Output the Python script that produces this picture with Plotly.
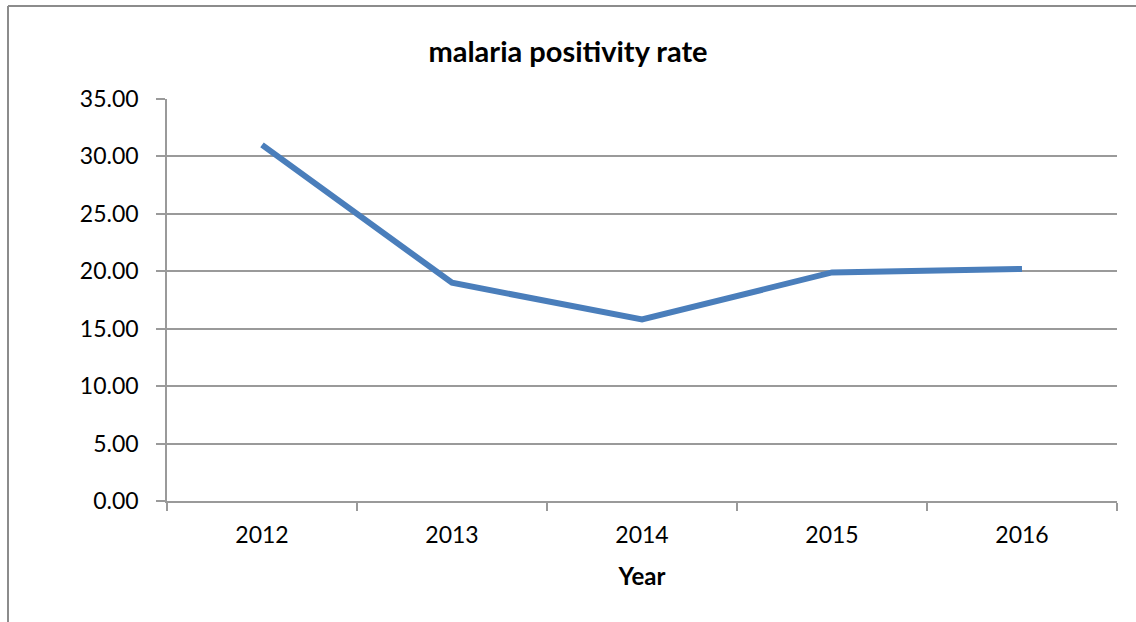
import plotly.graph_objects as go

years = ["2012", "2013", "2014", "2015", "2016"]
rates = [31.0, 19.0, 15.8, 19.9, 20.2]

W, H = 1136, 622
L, R, T, B = 167, 19, 99, 121
pw, ph = W - L - R, H - T - B

fig = go.Figure()
fig.add_trace(go.Scatter(
    x=years, y=rates, mode="lines",
    line=dict(color="#4A7EBB", width=6),
    showlegend=False, hoverinfo="x+y",
))

font = "Lato, Carlito, 'Open Sans', sans-serif"
grid = "#9A9A9A"

fig.update_layout(
    width=W, height=H,
    margin=dict(l=L, r=R, t=T, b=B, pad=0),
    paper_bgcolor="white", plot_bgcolor="white",
    font=dict(family=font, size=23, color="#000000"),
    title=dict(text="<b>malaria positivity rate</b>", x=0.5, xref="container",
               xanchor="center", y=1 - 52 / H, yref="container", yanchor="middle",
               font=dict(size=29, family=font, color="#000000")),
    xaxis=dict(
        type="category", range=[-0.5, 4.5], tickson="boundaries",
        ticks="outside", ticklen=8, tickwidth=1.5, tickcolor=grid,
        showgrid=False, showline=True, linecolor=grid, linewidth=1.5,
        zeroline=False, ticklabelstandoff=13,
        tickfont=dict(size=23, family=font, color="#000000"),
        title=dict(text="<b>Year</b>", standoff=21,
                   font=dict(size=24, family=font, color="#000000")),
    ),
    yaxis=dict(
        range=[0, 35], dtick=5, tick0=0, tickformat=".2f",
        ticks="outside", ticklen=9, tickwidth=1.5, tickcolor=grid,
        showgrid=True, gridcolor=grid, gridwidth=1.5,
        showline=True, linecolor=grid, linewidth=1.5,
        zeroline=False, ticklabelstandoff=13,
        tickfont=dict(size=23, family=font, color="#000000"),
    ),
)

# outer chart border (top and left edges visible; right/bottom clipped in reference)
x_left = (8 - L) / pw
y_top = 1 + (T - 6) / ph
fig.add_shape(type="line", xref="paper", yref="paper",
              x0=x_left, x1=(W + 5 - L) / pw, y0=y_top, y1=y_top,
              line=dict(color="#8C8C8C", width=2))
fig.add_shape(type="line", xref="paper", yref="paper",
              x0=x_left, x1=x_left, y0=y_top, y1=-(B + 5) / ph,
              line=dict(color="#8C8C8C", width=2))

fig.write_html("out.html")
